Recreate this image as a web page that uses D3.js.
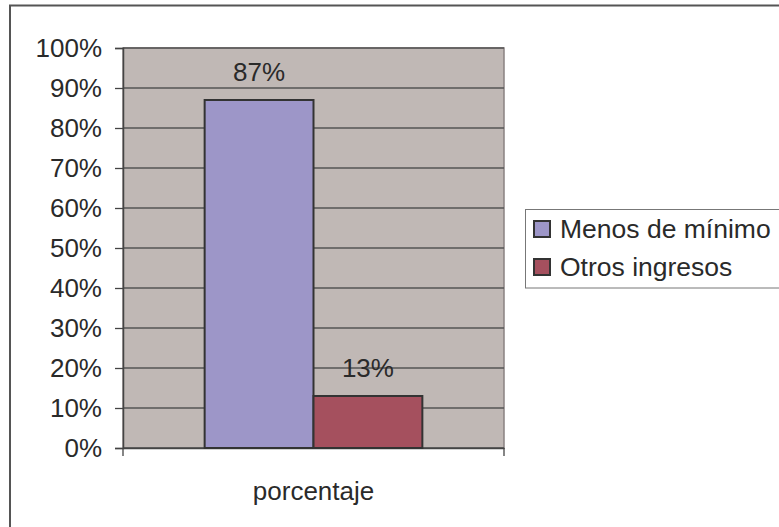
<!DOCTYPE html>
<html><head><meta charset="utf-8">
<script src="https://cdn.jsdelivr.net/npm/d3@7"></script>
<style>body{margin:0;background:#fff}svg{display:block;font-family:"Liberation Sans",Arial,sans-serif}</style>
</head><body><svg id="c" width="779" height="527"></svg>
<script>
const categories = ["porcentaje"];
const seriesNames = ["Menos de mínimo", "Otros ingresos"];
const seriesValues = [87, 13];
const seriesLabels = ["87%", "13%"];
const seriesColors = ["#9D96C8", "#A5505E"];
const yTicks = [0,10,20,30,40,50,60,70,80,90,100];

const svg = d3.select("#c");
const L = 123, R = 504, T = 48, B = 448;
const fs = 26;

svg.append("rect").attr("x",10).attr("y",5.5).attr("width",800).attr("height",600)
  .attr("fill","#fff").attr("stroke","#555").attr("stroke-width",2);

const y = d3.scaleLinear().domain([0,100]).range([B,T]);
const x0 = d3.scaleBand().domain(categories).range([L,R]).paddingInner(0).paddingOuter(0);

svg.append("rect").attr("x",L).attr("y",T).attr("width",R-L).attr("height",B-T)
  .attr("fill","#C0B8B5").attr("stroke","#8a8282").attr("stroke-width",1.5);

svg.append("g").selectAll("line").data(yTicks).join("line")
  .attr("x1",L).attr("x2",R).attr("y1",d=>y(d)).attr("y2",d=>y(d))
  .attr("stroke","#555").attr("stroke-width",1.3);

// y axis
const yAxis = d3.axisLeft(y).tickValues(yTicks).tickSize(8).tickPadding(13).tickFormat(d=>d+"%");
const gy = svg.append("g").attr("transform",`translate(${L},0)`).call(yAxis);
gy.select(".domain").attr("stroke","#444").attr("stroke-width",1.5);
gy.selectAll(".tick line").attr("stroke","#444").attr("stroke-width",1.3);
gy.selectAll(".tick text").attr("font-size",fs).attr("fill","#2a2a2a").attr("font-family","Liberation Sans, Arial, sans-serif");

// x axis
const xAxis = d3.axisBottom(x0).tickSize(0).tickPadding(34);
const gx = svg.append("g").attr("transform",`translate(0,${B})`).call(xAxis);
gx.select(".domain").attr("stroke","#444").attr("stroke-width",1.5);
gx.selectAll(".tick text").attr("font-size",fs).attr("fill","#2a2a2a").attr("font-family","Liberation Sans, Arial, sans-serif");
gx.append("g").selectAll("line").data(x0.range()).join("line")
  .attr("x1",d=>d).attr("x2",d=>d).attr("y1",0).attr("y2",8).attr("stroke","#444").attr("stroke-width",1.3);

// bars (gap width 150%: each bar = band / 3.5)
const bars = seriesNames.map((n,i)=>({name:n,value:seriesValues[i],label:seriesLabels[i],color:seriesColors[i]}));
const bw = x0.bandwidth()/3.5;
const bx = (i)=> x0(categories[0]) + x0.bandwidth()/2 - bw + i*bw;
svg.append("g").selectAll("rect").data(bars).join("rect")
  .attr("x",(d,i)=>bx(i)).attr("width",bw)
  .attr("y",d=>y(d.value)).attr("height",d=>B-y(d.value))
  .attr("fill",d=>d.color).attr("stroke","#333").attr("stroke-width",2);
svg.append("g").selectAll("text").data(bars).join("text")
  .attr("x",(d,i)=>bx(i)+bw/2).attr("y",d=>y(d.value)-19)
  .attr("text-anchor","middle").attr("font-size",fs).attr("fill","#2a2a2a").text(d=>d.label);

// legend
const lg = svg.append("g");
lg.append("rect").attr("x",525.5).attr("y",209.5).attr("width",300).attr("height",78.5)
  .attr("fill","#fff").attr("stroke","#777").attr("stroke-width",1);
bars.forEach((d,i)=>{
  const yy = 220 + i*38;
  lg.append("rect").attr("x",534).attr("y",yy+1).attr("width",16).attr("height",16)
    .attr("fill",d.color).attr("stroke","#333").attr("stroke-width",2);
  lg.append("text").attr("x",560).attr("y",yy+18).attr("font-size",26.5).attr("fill","#2a2a2a").text(d.name);
});
</script></body></html>
